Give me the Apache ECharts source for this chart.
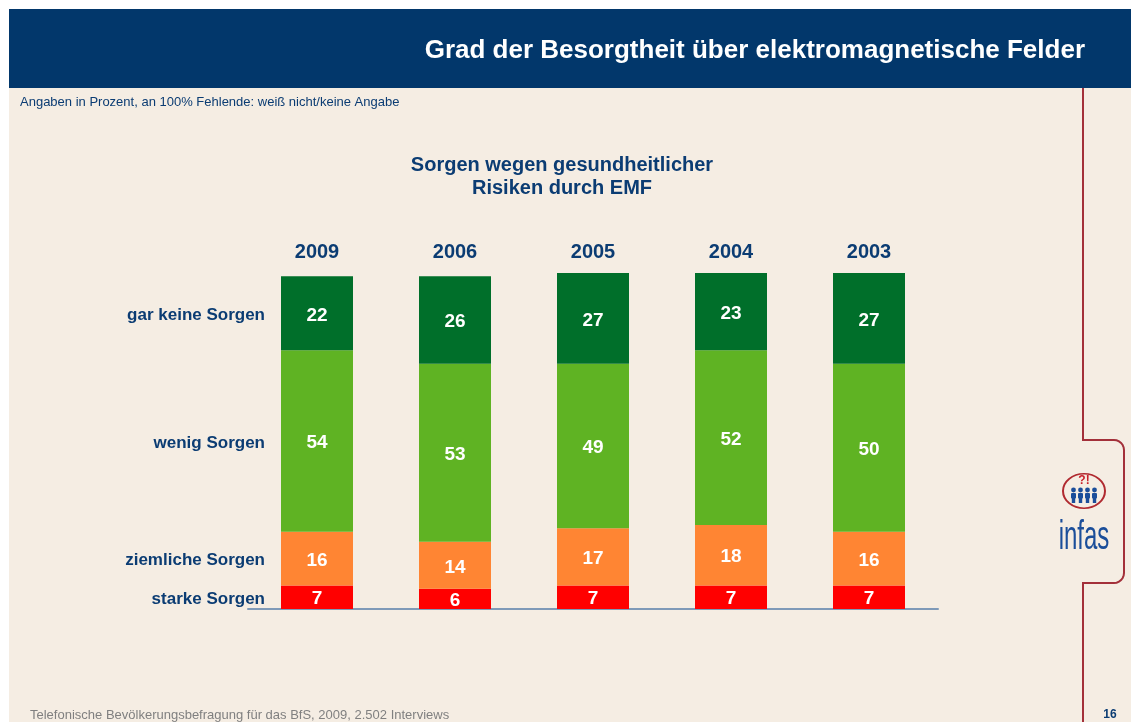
<!DOCTYPE html>
<html>
<head>
<meta charset="utf-8">
<script src="https://cdn.jsdelivr.net/npm/echarts@6/dist/echarts.min.js"></script>
<style>
html,body{margin:0;padding:0;background:#ffffff;}
#chart{width:1131px;height:722px;}
</style>
</head>
<body>
<div id="chart"></div>
<script>
// ---- data ----
const years = ['2009', '2006', '2005', '2004', '2003'];
const starkeSorgen = [7, 6, 7, 7, 7];
const ziemlicheSorgen = [16, 14, 17, 18, 16];
const wenigSorgen = [54, 53, 49, 52, 50];
const garKeineSorgen = [22, 26, 27, 23, 27];
const seriesNames = ['starke Sorgen', 'ziemliche Sorgen', 'wenig Sorgen', 'gar keine Sorgen'];
const seriesColors = ['#FF0000', '#FF8533', '#5FB323', '#006F2A'];
const headerTitle = 'Grad der Besorgtheit über elektromagnetische Felder';
const subTitle = 'Angaben in Prozent, an 100% Fehlende: weiß nicht/keine Angabe';
const chartTitle = 'Sorgen wegen gesundheitlicher\nRisiken durch EMF';
const footerText = 'Telefonische Bevölkerungsbefragung für das BfS, 2009, 2.502 Interviews';
const pageNumber = '16';

const navy = '#0B3C73';
const font = '"Liberation Sans", Arial, Helvetica, sans-serif';
const allValues = [starkeSorgen, ziemlicheSorgen, wenigSorgen, garKeineSorgen];

const chart = echarts.init(document.getElementById('chart'), null, {renderer: 'canvas'});

const series = [];
allValues.forEach((vals, i) => {
  series.push({
    name: seriesNames[i],
    type: 'bar',
    stack: 'main',
    barWidth: 72,
    barGap: '-100%',
    data: vals,
    itemStyle: {color: seriesColors[i]},
    label: {
      show: true, position: 'inside', offset: [0, 2], color: '#ffffff',
      fontFamily: font, fontWeight: 'bold', fontSize: 19
    },
    emphasis: {disabled: true},
    silent: true
  });
});
// invisible stack carrying the row labels left of the first bar
allValues.forEach((vals, i) => {
  series.push({
    name: seriesNames[i] + ' label',
    type: 'bar',
    stack: 'names',
    barWidth: 72,
    barGap: '-100%',
    data: vals.map((v, j) => j === 0 ? v : '-'),
    itemStyle: {color: 'rgba(0,0,0,0)'},
    label: {
      show: true, position: 'left', distance: 16, offset: [0, 2],
      formatter: seriesNames[i], color: navy,
      fontFamily: font, fontWeight: 'bold', fontSize: 17
    },
    emphasis: {disabled: true},
    silent: true,
    z: 1
  });
});

// rounded bracket outline on the right
function corner(cx, cy, r, a0, a1) {
  const pts = [];
  for (let k = 0; k <= 6; k++) {
    const a = a0 + (a1 - a0) * k / 6;
    pts.push([cx + r * Math.cos(a), cy + r * Math.sin(a)]);
  }
  return pts;
}
const bracketPts = [[1083, 88], [1083, 440]]
  .concat(corner(1114, 450, 10, -Math.PI / 2, 0))
  .concat(corner(1114, 573, 10, 0, Math.PI / 2))
  .concat([[1083, 583], [1083, 722]]);

const option = {
  backgroundColor: '#ffffff',
  animation: false,
  title: {
    text: chartTitle,
    left: 557, top: 149, textAlign: 'center',
    textStyle: {color: navy, fontFamily: font, fontWeight: 'bold', fontSize: 20, lineHeight: 23}
  },
  grid: {left: 248, right: 193, top: 273, bottom: 113},
  xAxis: [{
    type: 'category', data: years, position: 'bottom',
    axisLine: {show: true, lineStyle: {color: '#7F9AB8', width: 2}},
    axisTick: {show: false}, axisLabel: {show: false}
  }, {
    type: 'category', data: years, position: 'top',
    axisLine: {show: false}, axisTick: {show: false},
    axisLabel: {show: true, color: navy, fontFamily: font, fontWeight: 'bold', fontSize: 20, margin: 11}
  }],
  yAxis: {type: 'value', min: 0, max: 100, show: false},
  series: series,
  graphic: [
    {type: 'rect', shape: {x: 9, y: 88, width: 1122, height: 634}, style: {fill: '#F5EDE3'}, z: -10},
    {type: 'rect', shape: {x: 9, y: 9, width: 1122, height: 79}, style: {fill: '#02376B'}, z: -5},
    {type: 'text', x: 1085, y: 51, style: {text: headerTitle, fill: '#ffffff', font: 'bold 26px ' + font, textAlign: 'right', textVerticalAlign: 'middle'}},
    {type: 'text', x: 20, y: 102, style: {text: subTitle, fill: navy, font: '13px ' + font, textAlign: 'left', textVerticalAlign: 'middle'}},
    {type: 'text', x: 30, y: 715, style: {text: footerText, fill: '#808080', font: '13px ' + font, textAlign: 'left', textVerticalAlign: 'middle'}},
    {type: 'text', x: 1110, y: 715, style: {text: pageNumber, fill: navy, font: 'bold 12px ' + font, textAlign: 'center', textVerticalAlign: 'middle'}},
    {type: 'polyline', shape: {points: bracketPts}, style: {stroke: '#A3303A', lineWidth: 2, fill: null}},
    // infas logo
    {type: 'circle', shape: {cx: 0, cy: 0, r: 21}, x: 1084, y: 491, scaleY: 0.82, style: {stroke: '#B02A30', lineWidth: 2, fill: null}},
    {type: 'text', x: 1084, y: 481, style: {text: '?!', fill: '#C8202A', font: 'bold 12px ' + font, textAlign: 'center', textVerticalAlign: 'middle'}},
    {type: 'group', children: [1073.5, 1080.5, 1087.5, 1094.5].map(cx => ({
      type: 'group', children: [
        {type: 'circle', shape: {cx: cx, cy: 490, r: 2.4}, style: {fill: '#1B4E9A'}},
        {type: 'rect', shape: {x: cx - 2.5, y: 493, width: 5, height: 5.5, r: 1}, style: {fill: '#1B4E9A'}},
        {type: 'rect', shape: {x: cx - 1.7, y: 497, width: 3.4, height: 6}, style: {fill: '#1B4E9A'}}
      ]
    }))},
    {type: 'text', x: 1084, y: 538, scaleX: 0.6,
      style: {text: 'infas', fill: '#1B4E9A', font: '40px ' + font, textAlign: 'center', textVerticalAlign: 'middle'}}
  ]
};
chart.setOption(option);
</script>
</body>
</html>
